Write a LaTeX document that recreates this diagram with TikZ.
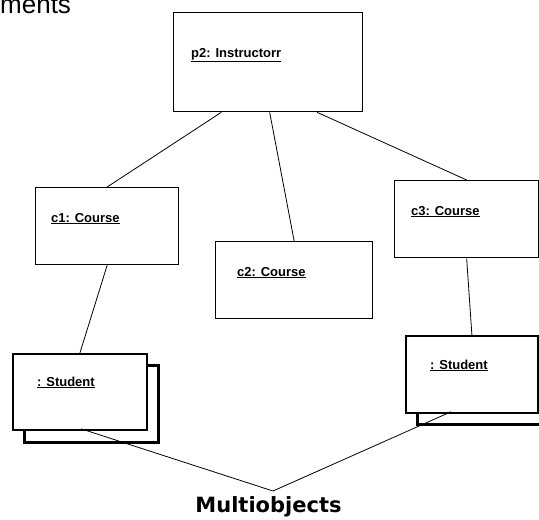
\documentclass[tikz,border=0pt]{standalone}
\usepackage{fontspec}
\setmainfont{Liberation Sans}
\newfontfamily\capfont{DejaVu Sans}
\usetikzlibrary{calc}
\begin{document}
\begin{tikzpicture}[x=1pt,y=-1pt,
  objbox/.style={draw=black, fill=white, line width=1.3pt, inner sep=0pt, anchor=north west},
  multibox/.style={objbox, line width=1.8pt},
  backbox/.style={objbox, line width=2.6pt},
  objlabel/.style={font=\fontsize{13}{13}\selectfont\bfseries, inner sep=0pt, anchor=base west},
  link/.style={draw=black, line width=0.8pt}]
\useasboundingbox (0,0) rectangle (539,520);

% heading fragment at the top edge
\node[font=\fontsize{26}{26}\selectfont, inner sep=0pt, anchor=base west] (head) at (0,13.5) {ments};

% instructor object
\node[objbox, minimum width=189pt, minimum height=99pt] (p2) at (173,12) {};
\node[objlabel] (p2t) at (191,57) {\underline{p2: Instructorr}};

% course objects
\node[objbox, minimum width=143pt, minimum height=77pt] (c1) at (35,187) {};
\node[objlabel] (c1t) at (51,222) {\underline{c1: Course}};
\node[objbox, minimum width=157pt, minimum height=77pt] (c2) at (215,241) {};
\node[objlabel] (c2t) at (237,276) {\underline{c2: Course}};
\node[objbox, minimum width=144pt, minimum height=77pt] (c3) at (394,180) {};
\node[objlabel] (c3t) at (411,215) {\underline{c3: Course}};

% student multiobjects: a back sheet offset under the front sheet
\node[backbox, minimum width=134pt, minimum height=77pt] (s1b) at (23,364) {};
\node[multibox, minimum width=134pt, minimum height=76pt] (s1) at (12,353) {};
\node[objlabel] (s1t) at (37,386) {\underline{: Student}};
\node[backbox, minimum width=134pt, minimum height=77pt] (s2b) at (416,346) {};
\node[multibox, minimum width=132pt, minimum height=77pt] (s2) at (405,335) {};
\node[objlabel] (s2t) at (430,369) {\underline{: Student}};

% links
\draw[link] ($(p2.south west)!0.254!(p2.south east)$) -- (c1.north);
\draw[link] ($(p2.south west)!0.508!(p2.south east)$) -- (c2.north);
\draw[link] ($(p2.south west)!0.757!(p2.south east)$) -- (c3.north);
\draw[link] (c1.south) -- (s1.north);
\draw[link] (c3.south) -- (s2.north);

% caption with pointers to both multiobjects
\node[font=\capfont\fontsize{21}{21}\selectfont\bfseries, inner sep=0pt, anchor=base] (mo) at (268.5,512) {Multiobjects};
\coordinate (apex) at (273,491);
\coordinate (s1p) at ($(s1.south west)+(69,-2)$);
\coordinate (s2p) at ($(s2.south west)+(46,-2)$);
\draw[link] (s1p) -- (apex) -- (s2p);
\end{tikzpicture}
\end{document}
